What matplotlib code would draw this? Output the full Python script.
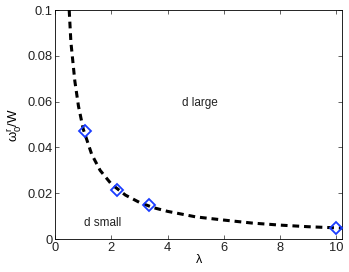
import matplotlib
matplotlib.use("Agg")
import matplotlib.pyplot as plt

plt.rcParams['font.family'] = ['Liberation Sans', 'DejaVu Sans']

curve_x = [0.50, 0.56, 0.70, 0.83, 1.0, 1.3, 1.6, 2.0, 2.5, 3.0, 3.5, 4.0, 5.0, 6.0, 7.0, 8.0, 9.0, 10.0, 10.2]
curve_y = [0.100, 0.086, 0.069, 0.058, 0.048, 0.037, 0.030, 0.024, 0.0192, 0.0160, 0.0137, 0.0121, 0.0097, 0.0083, 0.0070, 0.0061, 0.0054, 0.0049, 0.0048]
pts_x = [1.07, 2.2, 3.32, 10.0]
pts_y = [0.0473, 0.0214, 0.0147, 0.0048]
xticks = [0, 2, 4, 6, 8, 10]
yticks = [0, 0.02, 0.04, 0.06, 0.08, 0.1]
ytick_labels = ['0', '0.02', '0.04', '0.06', '0.08', '0.1']

fig = plt.figure(figsize=(3.49, 2.72), dpi=100)
ax = fig.add_axes([0.158, 0.121, 0.822, 0.842])
ax.plot(curve_x, curve_y, color='black', linestyle=(0, (2.2, 1.6)), linewidth=2.2, zorder=2)
ax.plot(pts_x, pts_y, linestyle='none', marker='D', markersize=6.5, markerfacecolor='none',
        markeredgecolor='#1a3cff', markeredgewidth=1.3, clip_on=False, zorder=3)
ax.set_xlim(0, 10.2)
ax.set_ylim(0, 0.1)
ax.set_xticks(xticks)
ax.set_xticklabels([str(t) for t in xticks])
ax.set_yticks(yticks)
ax.set_yticklabels(ytick_labels)
ax.tick_params(direction='in', top=True, right=True, labelsize=9.3, length=3, width=0.5, pad=2,
               colors='#222222')
for s in ax.spines.values():
    s.set_linewidth(0.6)
ax.text(5.15, 0.0595, 'd large', fontsize=8.5, ha='center', va='center', color='#222222')
ax.text(1.7, 0.0072, 'd small', fontsize=8.5, ha='center', va='center', color='#222222')
ax.set_xlabel('λ', fontsize=9, labelpad=0)
ax.set_ylabel(r'$\mathregular{ω_0^r}$/W', fontsize=9.5, labelpad=3)
fig.savefig('out.png', dpi=100)
